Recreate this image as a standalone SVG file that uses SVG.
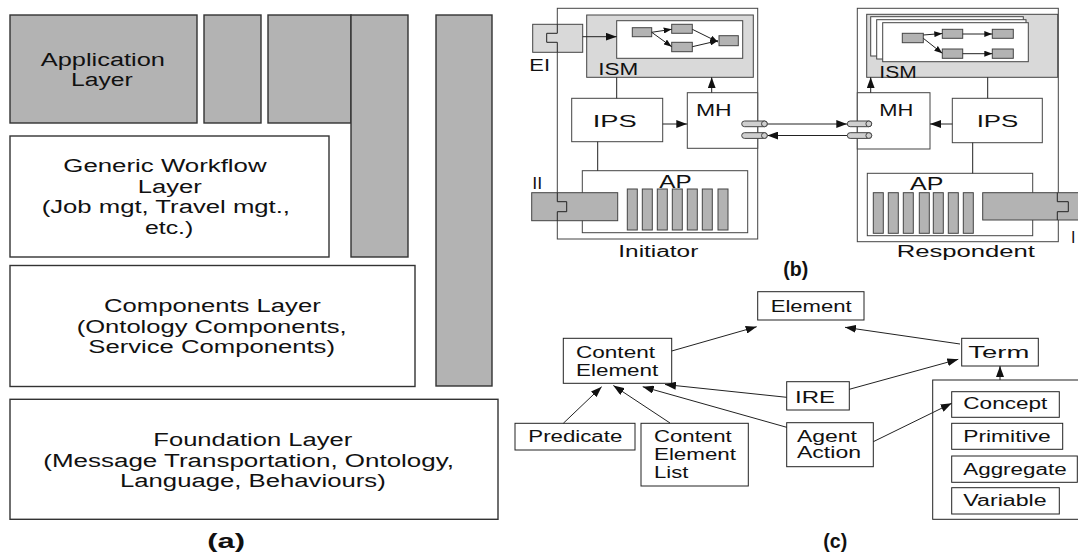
<svg xmlns="http://www.w3.org/2000/svg" width="1078" height="555" viewBox="0 0 1078 555">
<style>
text{font-family:"Liberation Sans",Arial,sans-serif;fill:#111}
.a{font-size:18px}
.b{font-size:15px}
.c{font-size:16px}
.lbl{font-size:20px;font-weight:bold}
.g{fill:#b3b3b3;stroke:#333;stroke-width:1.4}
.w{fill:#fff;stroke:#333;stroke-width:1.4}
.bw{fill:#fff;stroke:#444;stroke-width:1}
.bl{fill:#d9d9d9;stroke:#444;stroke-width:1}
.bg{fill:#b3b3b3;stroke:#444;stroke-width:1}
.cyl{fill:#cfcfcf;stroke:#444;stroke-width:1}
.cw{fill:#fff;stroke:#222;stroke-width:1}
.ln{fill:none;stroke:#222;stroke-width:1}
.ar{fill:none;stroke:#222;stroke-width:1;marker-end:url(#ah)}
.as{fill:none;stroke:#222;stroke-width:1;marker-end:url(#ahs)}
</style>
<defs>
<marker id="ah" markerUnits="userSpaceOnUse" markerWidth="11" markerHeight="8" refX="11" refY="4" orient="auto"><path d="M0,0 L11,4 L0,8 z" fill="#111"/></marker>
<marker id="ahs" markerUnits="userSpaceOnUse" markerWidth="8" markerHeight="6" refX="8" refY="3" orient="auto"><path d="M0,0 L8,3 L0,6 z" fill="#111"/></marker>
</defs>

<!-- Panel (a) -->
<g id="app-layer"><rect class="g" x="10" y="15" width="187" height="108"/>
<text class="a" x="40.7" y="65.7" textLength="124.3" lengthAdjust="spacingAndGlyphs">Application</text>
<text class="a" x="71" y="86" textLength="61.7" lengthAdjust="spacingAndGlyphs">Layer</text></g>
<g id="app-col2"><rect class="g" x="204" y="15" width="57" height="108"/></g>
<g id="app-col3"><rect class="g" x="268" y="15" width="83" height="108"/><rect class="g" x="351" y="15" width="57" height="242"/></g>
<g id="side-bar"><rect class="g" x="436" y="15" width="56" height="371"/></g>
<g id="workflow-layer"><rect class="w" x="10" y="136" width="319" height="121"/>
<text class="a" x="63.3" y="171.7" textLength="203.3" lengthAdjust="spacingAndGlyphs">Generic Workflow</text>
<text class="a" x="137.7" y="193" textLength="64" lengthAdjust="spacingAndGlyphs">Layer</text>
<text class="a" x="41.7" y="213" textLength="248.3" lengthAdjust="spacingAndGlyphs">(Job mgt, Travel mgt.,</text>
<text class="a" x="145" y="233.5" textLength="48.3" lengthAdjust="spacingAndGlyphs">etc.)</text></g>
<g id="components-layer"><rect class="w" x="10" y="265.5" width="405" height="121"/>
<text class="a" x="104" y="312.3" textLength="216.7" lengthAdjust="spacingAndGlyphs">Components Layer</text>
<text class="a" x="76.7" y="332.7" textLength="270" lengthAdjust="spacingAndGlyphs">(Ontology Components,</text>
<text class="a" x="88.3" y="353.3" textLength="246.7" lengthAdjust="spacingAndGlyphs">Service Components)</text></g>
<g id="foundation-layer"><rect class="w" x="10" y="399.3" width="488" height="120"/>
<text class="a" x="153.3" y="445.7" textLength="199" lengthAdjust="spacingAndGlyphs">Foundation Layer</text>
<text class="a" x="43.3" y="466.7" textLength="410.7" lengthAdjust="spacingAndGlyphs">(Message Transportation, Ontology,</text>
<text class="a" x="120" y="487.3" textLength="265.7" lengthAdjust="spacingAndGlyphs">Language, Behaviours)</text></g>
<text class="lbl" x="207.3" y="548" textLength="37.7" lengthAdjust="spacingAndGlyphs">(a)</text>

<!-- Panel (b) Initiator -->
<g id="initiator">
<rect class="bw" x="557.3" y="8.3" width="200.4" height="230.7"/>
<text class="c" x="618.3" y="256.7" textLength="80" lengthAdjust="spacingAndGlyphs">Initiator</text>
</g>
<g id="init-ism"><rect class="bl" x="586.7" y="15" width="166.6" height="62.3"/>
<rect class="bw" x="616.7" y="20.7" width="126" height="37.6"/>
<rect class="bg" x="632.3" y="27.7" width="19.4" height="9"/>
<rect class="bg" x="671.7" y="24.3" width="20.6" height="9"/>
<rect class="bg" x="671.7" y="42.3" width="20.6" height="9.4"/>
<rect class="bg" x="719" y="35.7" width="19.3" height="10"/>
<text class="c" x="598.3" y="74.5" textLength="40" lengthAdjust="spacingAndGlyphs">ISM</text></g>
<g id="init-ei"><rect class="bl" x="532.7" y="24.3" width="50" height="28"/>
<path class="ln" d="M557.3 24.3 V33.3 H546.7 V42.3 H557.3 V52.3" stroke="#444"/>
<text class="c" x="529.3" y="71" textLength="20.7" lengthAdjust="spacingAndGlyphs">EI</text></g>
<g id="init-ips"><rect class="bw" x="571.7" y="98.3" width="91" height="43.4"/>
<text class="c" x="592.7" y="126.7" textLength="44" lengthAdjust="spacingAndGlyphs">IPS</text></g>
<g id="init-mh"><rect class="bw" x="687.3" y="92.7" width="70.4" height="55.6"/>
<text class="c" x="696" y="116" textLength="35.7" lengthAdjust="spacingAndGlyphs">MH</text></g>
<g id="init-ap"><rect class="bw" x="582.3" y="170.7" width="165.4" height="62"/>
<rect class="bg" x="627.3" y="189" width="10" height="41"/>
<rect class="bg" x="642.3" y="189" width="10" height="41"/>
<rect class="bg" x="657.3" y="189" width="10" height="41"/>
<rect class="bg" x="672.3" y="189" width="10" height="41"/>
<rect class="bg" x="687.3" y="189" width="10" height="41"/>
<rect class="bg" x="702.3" y="189" width="10" height="41"/>
<rect class="bg" x="718" y="189" width="10" height="41"/>
<text class="a" x="659.3" y="188.3" textLength="32.3" lengthAdjust="spacingAndGlyphs">AP</text></g>
<g id="init-ii"><rect class="bg" x="531.7" y="192.7" width="86" height="28"/>
<path class="ln" d="M557.3 192.7 V201.7 H566.7 V211.7 H557.3 V220.7" stroke="#444"/>
<text class="c" x="532.2" y="189" textLength="10" lengthAdjust="spacingAndGlyphs">II</text></g>

<!-- Panel (b) Respondent -->
<g id="respondent">
<rect class="bw" x="857.3" y="8.3" width="201" height="233.4"/>
<text class="c" x="896.7" y="256.7" textLength="138.3" lengthAdjust="spacingAndGlyphs">Respondent</text>
</g>
<g id="resp-ism"><rect class="bl" x="866.7" y="14.3" width="191" height="63"/>
<rect class="bw" x="870.7" y="16.7" width="152.6" height="39.3"/>
<rect class="bw" x="876.7" y="19.7" width="149.3" height="39.3"/>
<rect class="bw" x="882.7" y="22.7" width="145.6" height="39"/>
<rect class="bg" x="902.3" y="33.3" width="21" height="9.4"/>
<rect class="bg" x="942.3" y="29.3" width="20.4" height="9"/>
<rect class="bg" x="992.3" y="29.3" width="21" height="9"/>
<rect class="bg" x="942.3" y="49" width="20.4" height="9.3"/>
<rect class="bg" x="992.3" y="49" width="21" height="9.3"/>
<text class="c" x="879.3" y="77.5" textLength="37.4" lengthAdjust="spacingAndGlyphs">ISM</text></g>
<g id="resp-mh"><rect class="bw" x="857.3" y="92.7" width="72.7" height="56.3"/>
<text class="c" x="879.3" y="116" textLength="34" lengthAdjust="spacingAndGlyphs">MH</text></g>
<g id="resp-ips"><rect class="bw" x="952.3" y="98.3" width="90" height="44.4"/>
<text class="c" x="976.7" y="126.7" textLength="41.7" lengthAdjust="spacingAndGlyphs">IPS</text></g>
<g id="resp-ap"><rect class="bw" x="867.3" y="173.3" width="165.4" height="62.4"/>
<rect class="bg" x="873.3" y="192.7" width="10" height="40.6"/>
<rect class="bg" x="888.3" y="192.7" width="10" height="40.6"/>
<rect class="bg" x="903.3" y="192.7" width="10" height="40.6"/>
<rect class="bg" x="919.3" y="192.7" width="10" height="40.6"/>
<rect class="bg" x="933.3" y="192.7" width="10" height="40.6"/>
<rect class="bg" x="948.3" y="192.7" width="10" height="40.6"/>
<rect class="bg" x="963.3" y="192.7" width="10" height="40.6"/>
<text class="a" x="910" y="190" textLength="33.3" lengthAdjust="spacingAndGlyphs">AP</text></g>
<g id="resp-ii"><rect class="bg" x="982.7" y="192.7" width="100" height="27.3"/>
<path class="ln" d="M1057.3 192.7 V201.7 H1068.3 V211.7 H1057.3 V220" stroke="#444"/>
<text class="c" x="1071" y="243">I</text></g>
<text class="lbl" x="783.3" y="276" textLength="25" lengthAdjust="spacingAndGlyphs">(b)</text>

<!-- Panel (c) -->
<g id="element"><rect class="cw" x="757.7" y="291.7" width="106.3" height="28.3"/>
<text class="c" x="770.7" y="311.7" textLength="81" lengthAdjust="spacingAndGlyphs">Element</text></g>
<g id="content-element"><rect class="cw" x="563.3" y="338.3" width="108.4" height="45"/>
<text class="c" x="576" y="358.3" textLength="79" lengthAdjust="spacingAndGlyphs">Content</text>
<text class="c" x="576" y="376" textLength="82.3" lengthAdjust="spacingAndGlyphs">Element</text></g>
<g id="predicate"><rect class="cw" x="515" y="423.3" width="120" height="26.7"/>
<text class="c" x="528.3" y="441.7" textLength="94" lengthAdjust="spacingAndGlyphs">Predicate</text></g>
<g id="content-element-list"><rect class="cw" x="641" y="423.3" width="107.3" height="62.7"/>
<text class="c" x="654" y="442" textLength="77.7" lengthAdjust="spacingAndGlyphs">Content</text>
<text class="c" x="654" y="460" textLength="82" lengthAdjust="spacingAndGlyphs">Element</text>
<text class="c" x="654" y="477.7" textLength="34.3" lengthAdjust="spacingAndGlyphs">List</text></g>
<g id="ire"><rect class="cw" x="786.7" y="381.7" width="62.6" height="28.3"/>
<text class="c" x="795" y="402.7" textLength="40" lengthAdjust="spacingAndGlyphs">IRE</text></g>
<g id="agent-action"><rect class="cw" x="786.7" y="422.7" width="86.6" height="44"/>
<text class="c" x="797" y="441.7" textLength="60" lengthAdjust="spacingAndGlyphs">Agent</text>
<text class="c" x="797" y="458.3" textLength="64" lengthAdjust="spacingAndGlyphs">Action</text></g>
<g id="term"><rect class="cw" x="961.7" y="338.3" width="76.6" height="27.7"/>
<text class="c" x="968.3" y="358.3" textLength="61" lengthAdjust="spacingAndGlyphs">Term</text></g>
<g id="term-kinds"><rect class="cw" x="932.7" y="380" width="160" height="139.3"/>
<rect class="cw" x="951.7" y="391.7" width="107.6" height="25.6"/>
<text class="c" x="963.3" y="409" textLength="84" lengthAdjust="spacingAndGlyphs">Concept</text>
<rect class="cw" x="951.7" y="423.3" width="111" height="26"/>
<text class="c" x="963.3" y="441.7" textLength="87.3" lengthAdjust="spacingAndGlyphs">Primitive</text>
<rect class="cw" x="951.7" y="456" width="125.6" height="26.3"/>
<text class="c" x="963.3" y="475" textLength="103.3" lengthAdjust="spacingAndGlyphs">Aggregate</text>
<rect class="cw" x="951.7" y="487.7" width="107.6" height="26.3"/>
<text class="c" x="963.3" y="506" textLength="83.3" lengthAdjust="spacingAndGlyphs">Variable</text></g>
<text class="lbl" x="823.3" y="548" textLength="24" lengthAdjust="spacingAndGlyphs">(c)</text>

<!-- Connectors -->
<g id="connectors">
<path class="ar" d="M582.7 36.7 H616.7"/>
<path class="as" d="M651.7 32.3 L671.7 29.3"/>
<path class="as" d="M651.7 32.3 L671.7 46.7"/>
<path class="as" d="M692.3 29.3 L718 42"/>
<path class="as" d="M692.3 46.7 L718 40.7"/>
<path class="ln" d="M616.7 77.3 V98.3"/>
<path class="ar" d="M662.7 124 H687.3"/>
<path class="ar" d="M711.7 92.7 V77.3"/>
<path class="ln" d="M597.7 141.7 V170.7"/>
<path class="as" d="M923.3 35 L942.3 33.5"/>
<path class="as" d="M923.3 38.3 L942.3 53.3"/>
<path class="as" d="M962.7 34 H992.3"/>
<path class="as" d="M962.7 53.7 H992.3"/>
<path class="ln" d="M987.7 77.3 V98.3"/>
<path class="ar" d="M952.3 124 H930"/>
<path class="ar" d="M870.7 92.7 V77.3"/>
<path class="ln" d="M972.7 142.7 V173.3"/>
<path class="ar" d="M767.3 124 H847.3"/>
<path class="ar" d="M847.3 135.5 H767.3"/>
<path class="ar" d="M563.3 423.3 L601.7 386.7"/>
<path class="ar" d="M670 423 L613.3 385.5"/>
<path class="ar" d="M786.7 397.3 L665 384.5"/>
<path class="ar" d="M786.7 427.3 L642.7 386.7"/>
<path class="ar" d="M671.7 351 L756.7 326.7"/>
<path class="ar" d="M960 344 L845 327.3"/>
<path class="ar" d="M849.3 389.3 L958.3 359.3"/>
<path class="ar" d="M873.3 441.7 L951.7 403.3"/>
<path class="ar" d="M1000 380 V366"/>
</g>
<g id="msg-ports">
<rect class="cyl" x="741.7" y="121" width="25.6" height="5.7" rx="2.85"/>
<ellipse class="cyl" cx="764.4" cy="123.85" rx="2.9" ry="2.85"/>
<rect class="cyl" x="741.7" y="132.7" width="25.6" height="5.7" rx="2.85"/>
<ellipse class="cyl" cx="764.4" cy="135.55" rx="2.9" ry="2.85"/>
<rect class="cyl" x="847.3" y="121" width="24.4" height="5.7" rx="2.85"/>
<ellipse class="cyl" cx="868.8" cy="123.85" rx="2.9" ry="2.85"/>
<rect class="cyl" x="847.3" y="132.7" width="24.4" height="5.7" rx="2.85"/>
<ellipse class="cyl" cx="868.8" cy="135.55" rx="2.9" ry="2.85"/>
</g>
</svg>
